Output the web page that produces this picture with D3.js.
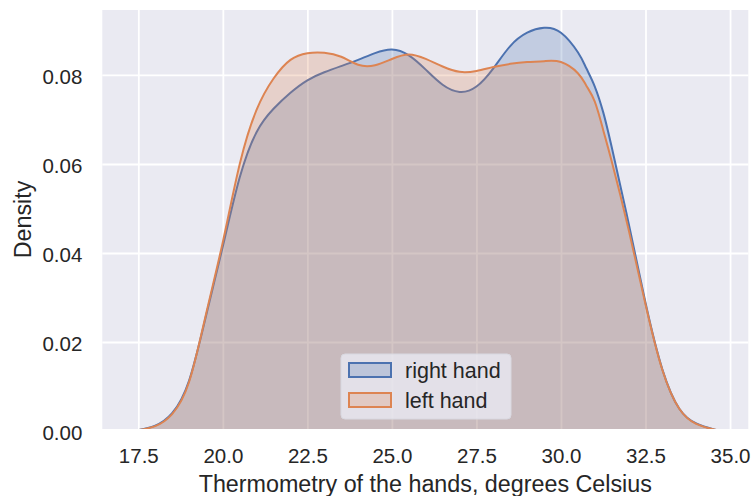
<!DOCTYPE html>
<html>
<head>
<meta charset="utf-8">
<script src="https://cdn.jsdelivr.net/npm/d3@7"></script>
<style>
  body { margin: 0; background: #fff; }
  svg text { font-family: "Liberation Sans", Arial, sans-serif; fill: #262626; }
</style>
</head>
<body>
<svg width="754" height="496"></svg>
<script>
// temperature grid (degrees Celsius)
const temps = [17.3, 17.5, 18.0, 18.5, 19.0, 19.5, 20.0, 20.5, 21.0, 21.5, 22.0, 22.5, 23.0, 23.5,
               24.0, 24.5, 25.0, 25.5, 26.0, 26.5, 27.0, 27.5, 28.0, 28.5, 29.0, 29.5, 30.0, 30.5,
               30.75, 31.0, 31.25, 31.5, 32.0, 32.5, 33.0, 33.5, 34.0, 34.5, 34.67];
// density of each hand
const rightHand = [0.0000, 0.0002, 0.0012, 0.0040, 0.0113, 0.0258, 0.0415, 0.0570, 0.0672, 0.0724, 0.0760, 0.0788, 0.0806, 0.0820,
                   0.0834, 0.0849, 0.0857, 0.0844, 0.0812, 0.0778, 0.0762, 0.0774, 0.0815, 0.0865, 0.0895, 0.0906, 0.0895, 0.0851,
                   0.0815, 0.0774, 0.0716, 0.0638, 0.0467, 0.0288, 0.0138, 0.0050, 0.0017, 0.0004, 0.0001];
const leftHand  = [0.0000, 0.0002, 0.0011, 0.0038, 0.0110, 0.0262, 0.0425, 0.0600, 0.0722, 0.0792, 0.0834, 0.0849, 0.0850, 0.0841,
                   0.0823, 0.0822, 0.0836, 0.0846, 0.0836, 0.0819, 0.0807, 0.0809, 0.0818, 0.0825, 0.0829, 0.0831, 0.0829, 0.0804,
                   0.0776, 0.0740, 0.0676, 0.0606, 0.0453, 0.0285, 0.0137, 0.0050, 0.0016, 0.0004, 0.0001];
const seriesNames = ["right hand", "left hand"];
const seriesColors = ["#4c72b0", "#dd8452"];
const xTicks = [17.5, 20.0, 22.5, 25.0, 27.5, 30.0, 32.5, 35.0];
const yTicks = [0.00, 0.02, 0.04, 0.06, 0.08];

const svg = d3.select("svg");
const plotL = 102.3, plotR = 748.3, plotT = 10, plotB = 429;

const x = d3.scaleLinear().domain([16.435, 35.54]).range([plotL, plotR]);
const y = d3.scaleLinear().domain([0, 0.0946]).range([431, plotT]);

// background
svg.append("rect")
    .attr("x", plotL).attr("y", plotT)
    .attr("width", plotR - plotL).attr("height", plotB - plotT)
    .attr("fill", "#eaeaf2");

svg.append("clipPath").attr("id", "plot")
  .append("rect")
    .attr("x", plotL).attr("y", plotT)
    .attr("width", plotR - plotL).attr("height", plotB - plotT);

// grid lines
svg.append("g")
    .attr("transform", `translate(0,${plotB})`)
    .call(d3.axisBottom(x).tickValues(xTicks).tickSize(-(plotB - plotT)).tickFormat(""))
    .call(g => g.select(".domain").remove())
    .call(g => g.selectAll("line").attr("stroke", "#fff").attr("stroke-width", 1.8));

svg.append("g")
    .attr("transform", `translate(${plotL},0)`)
    .call(d3.axisLeft(y).tickValues(yTicks.slice(1)).tickSize(-(plotR - plotL)).tickFormat(""))
    .call(g => g.select(".domain").remove())
    .call(g => g.selectAll("line").attr("stroke", "#fff").attr("stroke-width", 1.8));

// tick labels
svg.append("g")
    .attr("transform", `translate(0,${plotB})`)
    .call(d3.axisBottom(x).tickValues(xTicks).tickSize(0).tickPadding(19).tickFormat(d3.format(".1f")))
    .call(g => g.select(".domain").remove())
    .call(g => g.selectAll("text").attr("font-size", 20.5).attr("fill", "#333").attr("font-family", null));

svg.append("g")
    .attr("transform", `translate(${plotL},0)`)
    .call(d3.axisLeft(y).tickValues(yTicks).tickSize(0).tickPadding(20).tickFormat(d3.format(".2f")))
    .call(g => g.select(".domain").remove())
    .call(g => g.selectAll("text").attr("font-size", 20.5).attr("fill", "#333").attr("font-family", null)
        .attr("dy", "0.4em"));

// axis titles
svg.append("text")
    .attr("x", (plotL + plotR) / 2).attr("y", 492)
    .attr("text-anchor", "middle").attr("font-size", 23.3).attr("fill", "#333")
    .text("Thermometry of the hands, degrees Celsius");

svg.append("text")
    .attr("transform", `translate(31,${(plotT + plotB) / 2}) rotate(-90)`)
    .attr("text-anchor", "middle").attr("font-size", 23.3).attr("fill", "#333")
    .text("Density");

// density curves
const series = [rightHand, leftHand];
const area = d3.area()
    .x((d, i) => x(temps[i]))
    .y0(y(0))
    .y1(d => y(d))
    .curve(d3.curveNatural);
const line = d3.line()
    .x((d, i) => x(temps[i]))
    .y(d => y(d))
    .curve(d3.curveNatural);

const curves = svg.append("g").attr("clip-path", "url(#plot)");
series.forEach((vals, k) => {
    curves.append("path")
        .attr("d", area(vals))
        .attr("fill", seriesColors[k])
        .attr("fill-opacity", 0.25);
    curves.append("path")
        .attr("d", line(vals))
        .attr("fill", "none")
        .attr("stroke", seriesColors[k])
        .attr("stroke-width", 2);
});

// legend
const legend = svg.append("g").attr("transform", "translate(341,354)");
legend.append("rect")
    .attr("width", 170).attr("height", 65).attr("rx", 4)
    .attr("fill", "#eaeaf2").attr("fill-opacity", 0.8)
    .attr("stroke", "#d8d8e0").attr("stroke-width", 1);

seriesNames.forEach((name, k) => {
    const row = legend.append("g").attr("transform", `translate(8,${9 + k * 30})`);
    row.append("rect")
        .attr("width", 42).attr("height", 14)
        .attr("fill", seriesColors[k]).attr("fill-opacity", 0.25)
        .attr("stroke", seriesColors[k]).attr("stroke-width", 2);
    row.append("text")
        .attr("x", 56).attr("y", 14.5)
        .attr("font-size", 21.5).attr("fill", "#333")
        .text(name);
});
</script>
</body>
</html>
